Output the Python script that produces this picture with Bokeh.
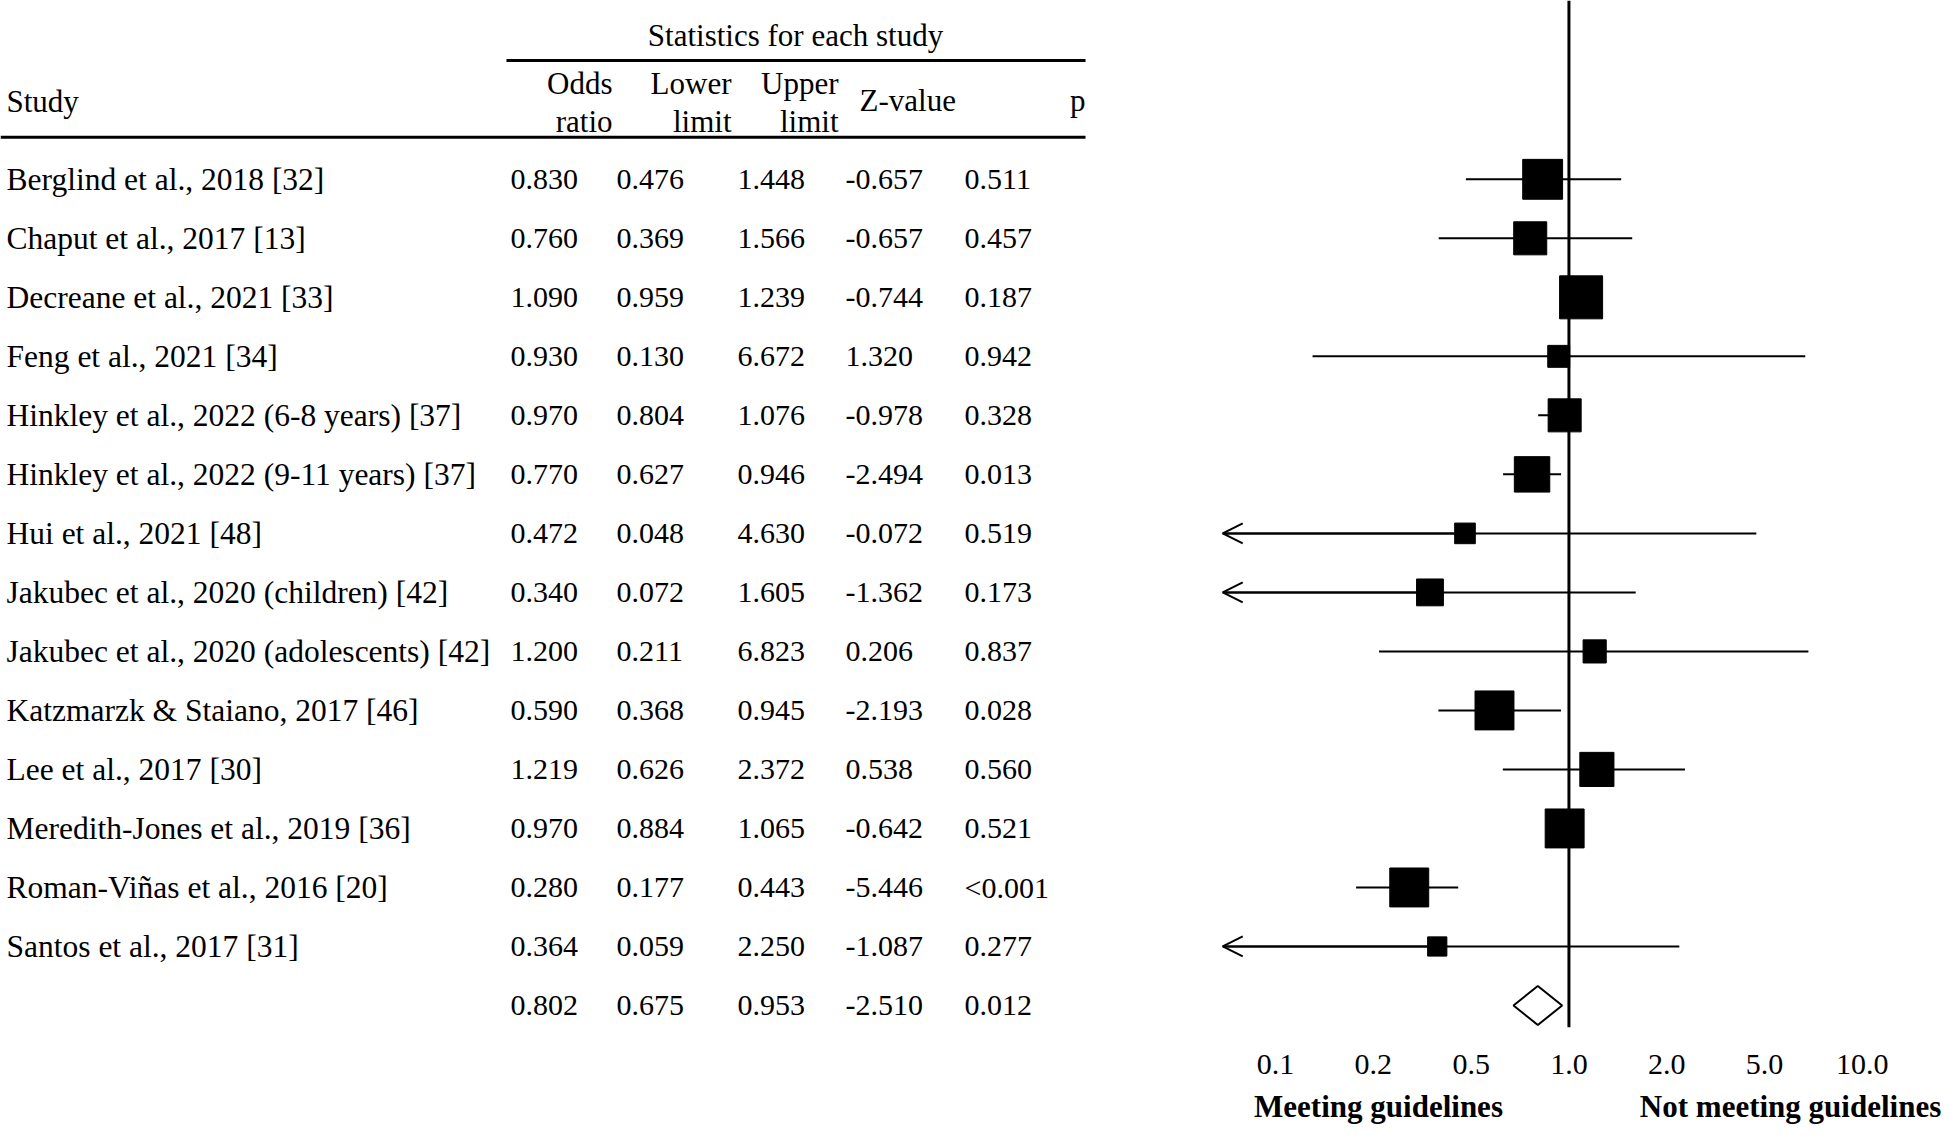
import numpy as np
from bokeh.plotting import figure
from bokeh.models import Range1d, LinearAxis, FixedTicker, Arrow, OpenHead, Span
from bokeh.core.properties import value
from bokeh.embed import file_html
from bokeh.resources import INLINE

# ---------------- data ----------------
studies = [
    "Berglind et al., 2018 [32]",
    "Chaput et al., 2017 [13]",
    "Decreane et al., 2021 [33]",
    "Feng et al., 2021 [34]",
    "Hinkley et al., 2022 (6-8 years) [37]",
    "Hinkley et al., 2022 (9-11 years) [37]",
    "Hui et al., 2021 [48]",
    "Jakubec et al., 2020 (children) [42]",
    "Jakubec et al., 2020 (adolescents) [42]",
    "Katzmarzk & Staiano, 2017 [46]",
    "Lee et al., 2017 [30]",
    "Meredith-Jones et al., 2019 [36]",
    "Roman-Viñas et al., 2016 [20]",
    "Santos et al., 2017 [31]",
]
odds_ratio = [0.830, 0.760, 1.090, 0.930, 0.970, 0.770, 0.472, 0.340, 1.200, 0.590, 1.219, 0.970, 0.280, 0.364]
lower_limit = [0.476, 0.369, 0.959, 0.130, 0.804, 0.627, 0.048, 0.072, 0.211, 0.368, 0.626, 0.884, 0.177, 0.059]
upper_limit = [1.448, 1.566, 1.239, 6.672, 1.076, 0.946, 4.630, 1.605, 6.823, 0.945, 2.372, 1.065, 0.443, 2.250]
z_value = [-0.657, -0.657, -0.744, 1.320, -0.978, -2.494, -0.072, -1.362, 0.206, -2.193, 0.538, -0.642, -5.446, -1.087]
p_value = ["0.511", "0.457", "0.187", "0.942", "0.328", "0.013", "0.519", "0.173", "0.837", "0.028", "0.560", "0.521", "<0.001", "0.277"]
rel_weight = [86, 59, 100, 26, 59, 68, 23, 39, 29, 82, 63, 82, 82, 20]

summary_or = 0.802
summary_lower = 0.675
summary_upper = 0.953
summary_z = -2.510
summary_p = "0.012"

tick_values = [0.1, 0.2, 0.5, 1.0, 2.0, 5.0, 10.0]
tick_labels = ["0.1", "0.2", "0.5", "1.0", "2.0", "5.0", "10.0"]
side_labels = ["Meeting guidelines", "Not meeting guidelines"]

header_top = "Statistics for each study"
col_headers = [("Odds", "ratio"), ("Lower", "limit"), ("Upper", "limit")]

# ---------------- helpers ----------------
FONT = value("Liberation Serif")
FS_NAME = value("31.5px")
FS_HEAD = value("31px")
FS_VAL = value("30px")
CLIP = -0.54  # left end of the drawable odds-ratio scale (arrow tip)


def to_axis(v):
    """Map odds ratios onto the evenly spaced tick scale (log between ticks)."""
    lv = np.log10(np.asarray(v, dtype=float))
    lt = np.log10(tick_values)
    idx = np.interp(lv, lt, np.arange(len(lt), dtype=float))
    below = lv < lt[0]
    idx[below] = (lv[below] - lt[0]) / (lt[1] - lt[0])
    return idx


n = len(studies)
rows = np.arange(n, dtype=float)
sum_row = float(n)

p = figure(width=1944, height=1126,
           x_range=Range1d(0, 1944), y_range=Range1d(1028, 0),
           x_axis_type=None, y_axis_type=None,
           output_backend="svg", toolbar_location=None,
           min_border_left=0, min_border_right=0, min_border_top=0,
           min_border_bottom=98, outline_line_color=None,
           background_fill_color="white", border_fill_color="white")
p.extra_x_ranges = {"forest": Range1d(-13.037, 6.840)}
p.extra_y_ranges = {"rows": Range1d(14.373, -3.030)}

# ---------------- table header ----------------
p.text(x=[795], y=[35], text=[header_top], text_font=FONT, text_font_size=FS_HEAD,
       text_align="center", text_baseline="middle", text_color="black")
p.segment(x0=[506], y0=[60], x1=[1085], y1=[60], line_color="black", line_width=3)
p.segment(x0=[0], y0=[137], x1=[1085], y1=[137], line_color="black", line_width=3)
p.text(x=[6], y=[101], text=["Study"], text_font=FONT, text_font_size=FS_HEAD,
       text_align="left", text_baseline="middle", text_color="black")
hdr_right = [612, 731, 838]
p.text(x=hdr_right, y=[83] * 3, text=[h[0] for h in col_headers], text_font=FONT,
       text_font_size=FS_HEAD, text_align="right", text_baseline="middle", text_color="black")
p.text(x=hdr_right, y=[121] * 3, text=[h[1] for h in col_headers], text_font=FONT,
       text_font_size=FS_HEAD, text_align="right", text_baseline="middle", text_color="black")
p.text(x=[859], y=[100], text=["Z-value"], text_font=FONT, text_font_size=FS_HEAD,
       text_align="left", text_baseline="middle", text_color="black")
p.text(x=[1085], y=[100], text=["p"], text_font=FONT, text_font_size=FS_HEAD,
       text_align="right", text_baseline="middle", text_color="black")

# ---------------- table body ----------------
p.text(x=[6] * n, y=rows, text=studies, text_font=FONT, text_font_size=FS_NAME,
       text_align="left", text_baseline="middle", text_color="black", y_range_name="rows")

col_x = [510, 616, 737, 845, 964]
all_rows = list(rows) + [sum_row]
columns = [
    ["%.3f" % v for v in odds_ratio + [summary_or]],
    ["%.3f" % v for v in lower_limit + [summary_lower]],
    ["%.3f" % v for v in upper_limit + [summary_upper]],
    ["%.3f" % v for v in z_value + [summary_z]],
    p_value + [summary_p],
]
for cx, col in zip(col_x, columns):
    p.text(x=[cx] * len(col), y=all_rows, text=col, text_font=FONT, text_font_size=FS_VAL,
           text_align="left", text_baseline="middle", text_color="black",
           y_range_name="rows")

# ---------------- forest plot ----------------
null_line = Span(location=float(to_axis([1.0])[0]), dimension="height",
                 line_color="black", line_width=3, x_range_name="forest")
p.add_layout(null_line)

or_pos = to_axis(odds_ratio)
hi_pos = to_axis(upper_limit)
clipped = np.asarray(lower_limit) < tick_values[0]
lo_draw = np.where(clipped, CLIP, to_axis(lower_limit))

p.segment(x0=lo_draw, y0=rows, x1=hi_pos, y1=rows, line_color="black", line_width=2,
          x_range_name="forest", y_range_name="rows")

for i in range(n):
    if clipped[i]:
        p.add_layout(Arrow(end=OpenHead(size=20, line_width=2, line_color="black"),
                           x_start=float(or_pos[i]), y_start=float(rows[i]),
                           x_end=CLIP, y_end=float(rows[i]),
                           line_color="black", line_width=2,
                           x_range_name="forest", y_range_name="rows"))

sizes = 43 * np.sqrt(np.asarray(rel_weight, dtype=float) / 100.0)
p.scatter(x=or_pos, y=rows, marker="square", size=sizes, fill_color="black",
          line_color="black", x_range_name="forest", y_range_name="rows")

s_lo, s_or, s_hi = to_axis([summary_lower, summary_or, summary_upper])
half_h = 0.33
p.patch(x=[s_lo, s_or, s_hi, s_or], y=[sum_row, sum_row - half_h, sum_row, sum_row + half_h],
        fill_color="white", line_color="black", line_width=2,
        x_range_name="forest", y_range_name="rows")

# ---------------- axes ----------------
ax_ticks = LinearAxis(x_range_name="forest",
                      ticker=FixedTicker(ticks=list(range(len(tick_values)))),
                      major_label_overrides={i: lab for i, lab in enumerate(tick_labels)},
                      axis_line_color=None, major_tick_line_color=None,
                      minor_tick_line_color=None, major_tick_in=0, major_tick_out=0,
                      major_label_standoff=27,
                      major_label_text_font="Liberation Serif",
                      major_label_text_font_size="30px",
                      major_label_text_color="black")
p.add_layout(ax_ticks, "below")

side_pos = [1.053, 5.266]
ax_side = LinearAxis(x_range_name="forest",
                     ticker=FixedTicker(ticks=side_pos),
                     major_label_overrides={side_pos[0]: side_labels[0], side_pos[1]: side_labels[1]},
                     axis_line_color=None, major_tick_line_color=None,
                     minor_tick_line_color=None, major_tick_in=0, major_tick_out=0,
                     major_label_standoff=12,
                     major_label_text_font="Liberation Serif",
                     major_label_text_font_size="31px",
                     major_label_text_font_style="bold",
                     major_label_text_color="black")
p.add_layout(ax_side, "below")

open("out.html", "w").write(file_html(p, INLINE))
